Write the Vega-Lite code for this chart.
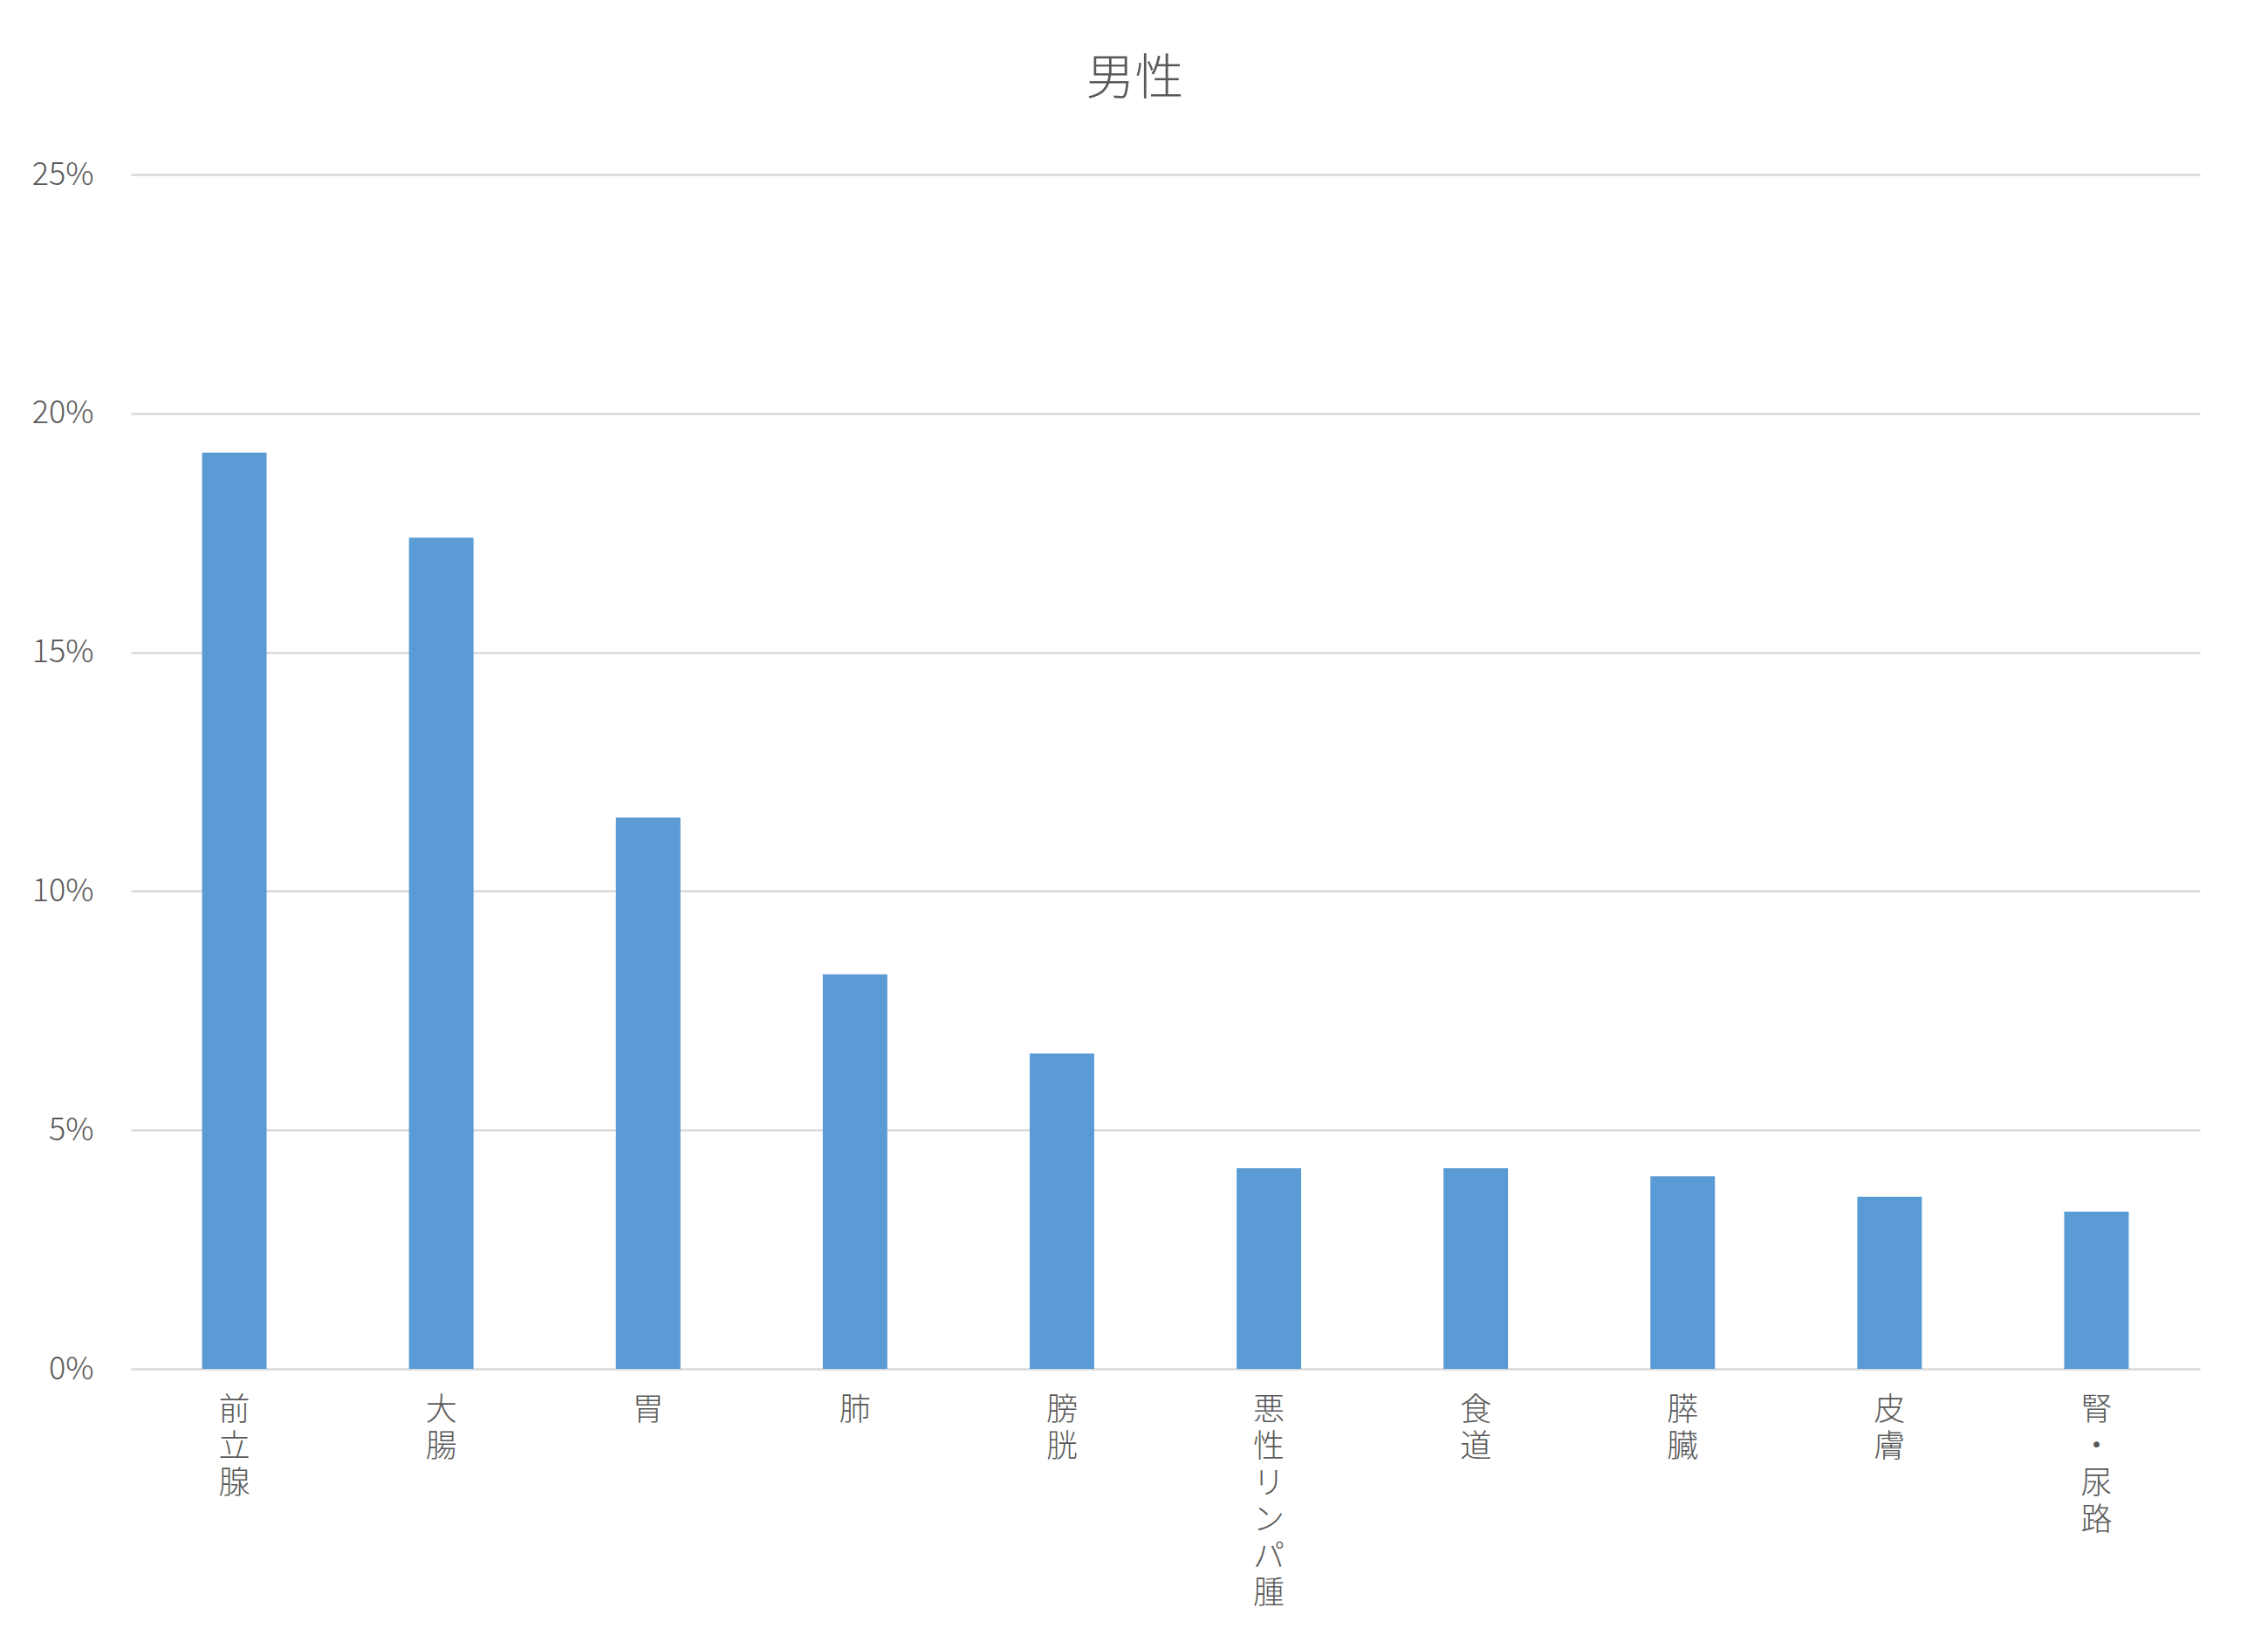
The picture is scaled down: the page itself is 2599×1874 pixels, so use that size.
{
  "$schema": "https://vega.github.io/schema/vega-lite/v6.json",
  "autosize": {"type": "none"},
  "width": 2371,
  "height": 1369,
  "padding": {"left": 150, "top": 200, "right": 78, "bottom": 305},
  "background": "white",
  "title": {
    "text": "男性",
    "font": "Noto Sans CJK JP",
    "fontSize": 56,
    "fontWeight": 300,
    "color": "#595959",
    "anchor": "middle",
    "dx": -35,
    "offset": 62
  },
  "data": {
    "values": [
      {"site": "前立腺", "share": 0.1918},
      {"site": "大腸", "share": 0.1740},
      {"site": "胃", "share": 0.1154},
      {"site": "肺", "share": 0.0826},
      {"site": "膀胱", "share": 0.0660},
      {"site": "悪性リンパ腫", "share": 0.0420},
      {"site": "食道", "share": 0.0420},
      {"site": "膵臓", "share": 0.0403},
      {"site": "皮膚", "share": 0.0360},
      {"site": "腎・尿路", "share": 0.0329}
    ]
  },
  "mark": {"type": "bar", "color": "#5b9bd5"},
  "encoding": {
    "x": {
      "field": "site",
      "type": "nominal",
      "sort": null,
      "scale": {"paddingInner": 0.688, "paddingOuter": 0.344},
      "axis": {
        "title": null,
        "domain": false,
        "ticks": false,
        "labelAngle": 0,
        "labelExpr": "split(datum.label, '')",
        "labelFont": "Noto Sans CJK JP",
        "labelFontSize": 36,
        "labelFontWeight": 300,
        "labelLineHeight": 42,
        "labelColor": "#595959",
        "labelBaseline": "top",
        "labelPadding": 30
      }
    },
    "y": {
      "field": "share",
      "type": "quantitative",
      "scale": {"domain": [0, 0.25]},
      "axis": {
        "title": null,
        "values": [0, 0.05, 0.1, 0.15, 0.2, 0.25],
        "format": ".0%",
        "domain": false,
        "ticks": false,
        "gridColor": "#d9d9d9",
        "gridWidth": 2.5,
        "labelFont": "Noto Sans CJK JP",
        "labelFontSize": 36,
        "labelFontWeight": 300,
        "labelColor": "#595959",
        "labelPadding": 43
      }
    }
  },
  "config": {"view": {"stroke": null}}
}
